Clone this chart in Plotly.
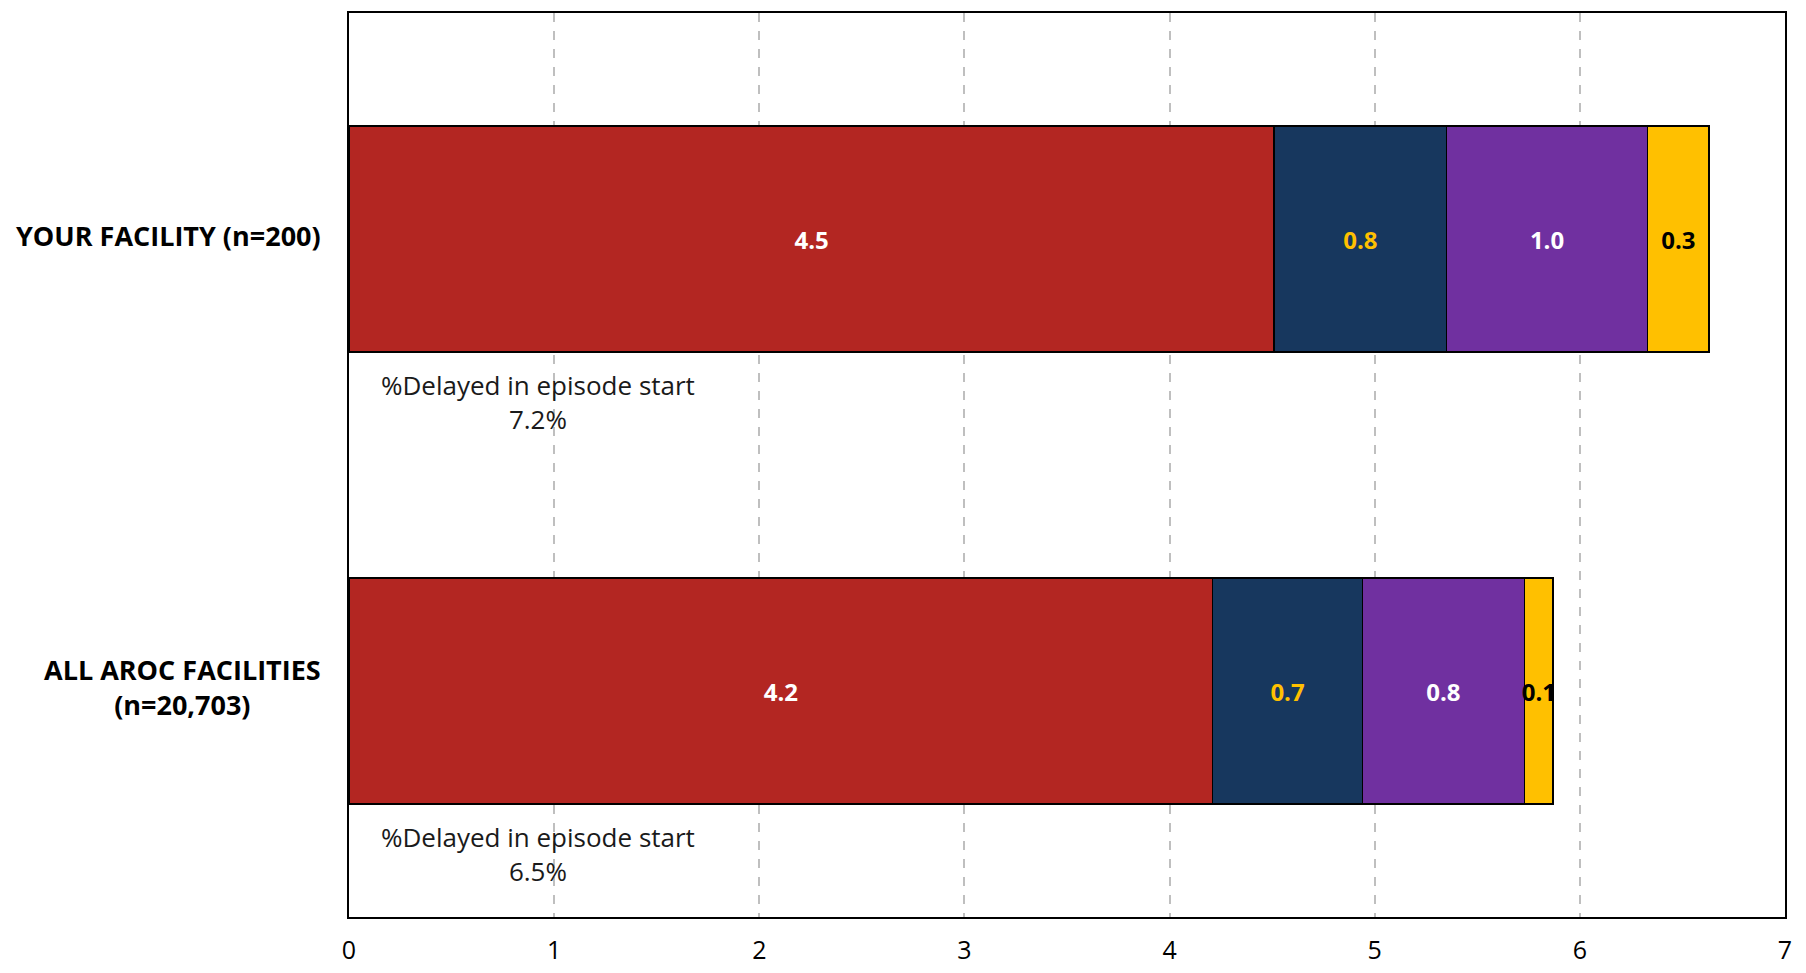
import plotly.graph_objects as go

categories = ["YOUR FACILITY (n=200)", "ALL AROC FACILITIES<br>(n=20,703)"]
series_names = ["Component 1", "Component 2", "Component 3", "Component 4"]
series_values = [
    [4.51, 4.21],
    [0.84, 0.73],
    [0.98, 0.79],
    [0.30, 0.14],
]
series_colors = ["#B32622", "#17375E", "#7030A0", "#FFC000"]
label_colors = ["#FFFFFF", "#FFC000", "#FFFFFF", "#000000"]
delayed_pct = ["7.2%", "6.5%"]
x_ticks = [0, 1, 2, 3, 4, 5, 6, 7]

FONT = "Open Sans"

fig = go.Figure()
for name, vals, col, lcol in zip(series_names, series_values, series_colors, label_colors):
    fig.add_trace(go.Bar(
        y=categories, x=vals, name=name, orientation="h",
        marker=dict(color=col, line=dict(color="#000000", width=1.5)),
        texttemplate="<b>%{x:.1f}</b>", textposition="inside",
        insidetextanchor="middle", constraintext="none", textangle=0,
        textfont=dict(family=FONT, size=24, color=lcol),
        width=0.5, hoverinfo="x+name",
    ))

# category labels (centered multi-line)
for cat in categories:
    fig.add_annotation(
        x=0, xref="paper", y=cat, yref="y", xshift=-26, yshift=4,
        text=f"<b>{cat}</b>", showarrow=False, align="center",
        xanchor="right", yanchor="middle",
        font=dict(family=FONT, size=27, color="#000000"),
    )

for i, pct in enumerate(delayed_pct):
    fig.add_annotation(
        x=0.92, y=i + 0.36, xref="x", yref="y",
        text=f"%Delayed in episode start<br>{pct}",
        showarrow=False, align="center", xanchor="center", yanchor="middle",
        font=dict(family=FONT, size=26, color="#1A1A1A"),
    )

fig.update_layout(
    barmode="stack",
    width=1806, height=973,
    margin=dict(l=341, r=29, t=3, b=64),
    plot_bgcolor="#FFFFFF", paper_bgcolor="#FFFFFF",
    showlegend=False,
    font=dict(family=FONT, color="#000000"),
)
fig.update_xaxes(
    range=[0, 7], tickvals=x_ticks, ticktext=[str(t) for t in x_ticks],
    showgrid=True, gridcolor="#BFBFBF", griddash="dash", gridwidth=1.5,
    showline=True, linecolor="#000000", linewidth=2, mirror=True,
    zeroline=False, ticks="", tickfont=dict(family=FONT, size=25, color="#000000"),
    ticklabelstandoff=10,
)
fig.update_yaxes(
    autorange="reversed",
    showline=True, linecolor="#000000", linewidth=2, mirror=True,
    showgrid=False, ticks="", showticklabels=False,
)
fig.write_html("out.html")
